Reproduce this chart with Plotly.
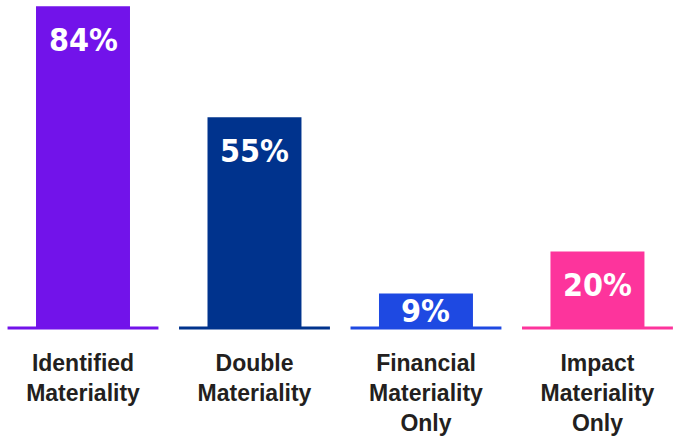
import plotly.graph_objects as go

# Share of respondents by materiality approach
categories = ["Identified Materiality", "Double Materiality",
              "Financial Materiality Only", "Impact Materiality Only"]
tick_labels = ["Identified<br>Materiality", "Double<br>Materiality",
               "Financial<br>Materiality<br>Only", "Impact<br>Materiality<br>Only"]
values = [84, 55, 9, 20]
value_labels = ["84%", "55%", "9%", "20%"]
colors = ["#7213EA", "#00338D", "#1E49E2", "#FD349C"]

W, H = 676, 436
MARGIN_B = 106
Y_RANGE = [-0.52, 85.64]
VALUE_FONT = 32

fig = go.Figure(
    go.Bar(
        x=categories,
        y=values,
        marker=dict(color=colors, line=dict(width=0)),
        hoverinfo="skip",
    )
)

# coloured base segment under each bar
for i, c in enumerate(colors):
    fig.add_shape(
        type="line", xref="x", yref="y",
        x0=i - 0.44, x1=i + 0.44, y0=0, y1=0,
        line=dict(color=c, width=3), layer="above",
    )

# value labels near the top inside each bar
px_per_unit = (H - MARGIN_B) / (Y_RANGE[1] - Y_RANGE[0])
box_px = VALUE_FONT * 1.2
for cat, v, lab in zip(categories, values, value_labels):
    bar_px = v * px_per_unit
    gap = min(13, bar_px - box_px)
    fig.add_annotation(
        x=cat, y=v, xref="x", yref="y",
        text=lab, showarrow=False,
        yanchor="top", yshift=-gap,
        font=dict(family="DejaVu Sans Condensed, Liberation Sans Narrow, sans-serif",
                  size=VALUE_FONT, color="white", weight="bold"),
    )

fig.update_layout(
    width=W, height=H,
    margin=dict(l=0, r=0, t=0, b=MARGIN_B),
    paper_bgcolor="white", plot_bgcolor="white",
    bargap=0.452,
    showlegend=False,
    xaxis=dict(
        range=[-0.484, 3.458],
        tickmode="array", tickvals=categories, ticktext=tick_labels,
        showgrid=False, zeroline=False, showline=False, ticks="",
        ticklabelstandoff=17,
        tickfont=dict(family="Liberation Sans, Arial, sans-serif",
                      size=23, color="#231F20", weight="bold"),
    ),
    yaxis=dict(range=Y_RANGE, visible=False, showgrid=False, zeroline=False),
)

fig.write_html("out.html")
